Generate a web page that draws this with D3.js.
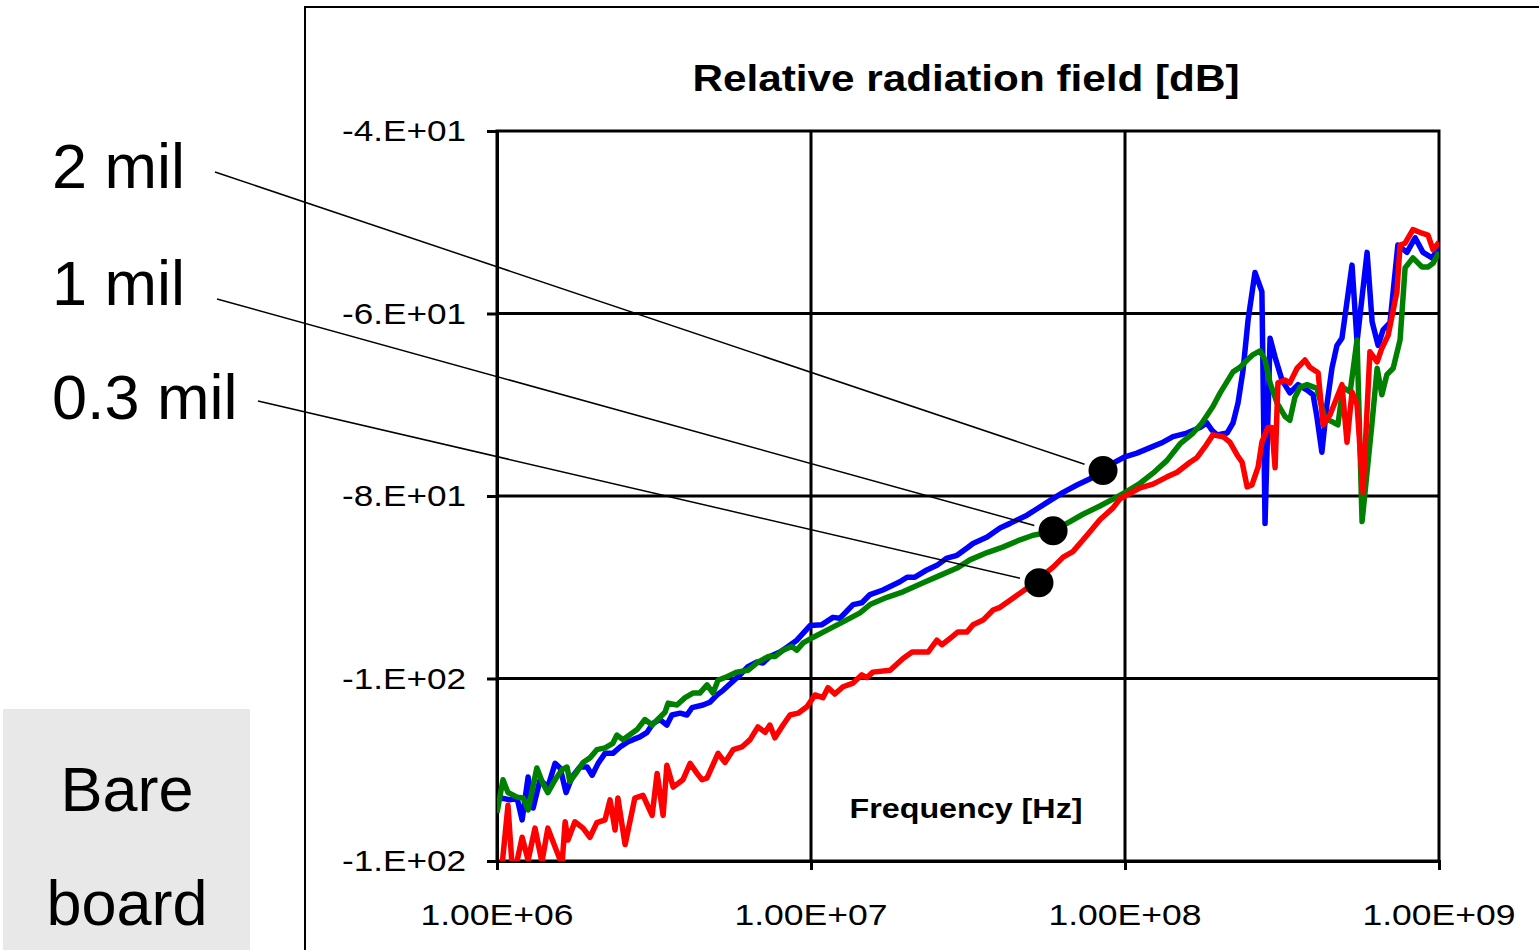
<!DOCTYPE html>
<html>
<head>
<meta charset="utf-8">
<script src="https://cdn.jsdelivr.net/npm/d3@7"></script>
<style>
  body { margin: 0; background: #fff; }
  text { font-family: "Liberation Sans", Arial, sans-serif; fill: #000; }
</style>
</head>
<body>
<svg id="chart" width="1539" height="950"></svg>
<script>
// each point: [log10(frequency in Hz), relative field in dB]
const twoMil = [[6.000,-113.0],[6.041,-113.3],[6.064,-113.1],[6.080,-115.5],[6.099,-110.8],[6.115,-114.2],[6.137,-111.1],[6.162,-111.9],[6.185,-109.3],[6.201,-109.8],[6.220,-112.5],[6.239,-110.8],[6.264,-109.7],[6.287,-109.7],[6.303,-110.6],[6.322,-109.3],[6.344,-108.2],[6.369,-108.2],[6.392,-107.5],[6.414,-107.0],[6.433,-106.7],[6.455,-106.4],[6.478,-105.9],[6.497,-104.9],[6.519,-104.5],[6.541,-105.1],[6.557,-104.0],[6.583,-103.8],[6.605,-104.0],[6.621,-103.2],[6.656,-102.9],[6.678,-102.6],[6.701,-101.8],[6.720,-101.3],[6.748,-100.4],[6.774,-99.6],[6.799,-98.7],[6.828,-98.2],[6.847,-98.3],[6.869,-97.6],[6.901,-97.1],[6.927,-96.5],[6.955,-95.8],[6.997,-94.2],[7.035,-94.1],[7.070,-93.3],[7.092,-93.4],[7.134,-91.9],[7.162,-91.7],[7.188,-90.8],[7.229,-90.3],[7.283,-89.4],[7.306,-88.9],[7.331,-88.9],[7.369,-88.1],[7.401,-87.6],[7.433,-86.8],[7.465,-86.5],[7.497,-85.7],[7.516,-85.2],[7.561,-84.5],[7.602,-83.5],[7.634,-83.0],[7.688,-82.1],[7.720,-81.4],[7.752,-80.7],[7.803,-79.6],[7.847,-78.8],[7.889,-78.1],[7.930,-77.2],[7.962,-76.4],[8.000,-75.7],[8.038,-75.3],[8.080,-74.7],[8.121,-74.1],[8.153,-73.5],[8.197,-73.1],[8.239,-72.5],[8.261,-72.0],[8.277,-72.8],[8.293,-73.3],[8.325,-73.1],[8.344,-72.0],[8.360,-69.8],[8.376,-66.2],[8.392,-60.7],[8.414,-55.5],[8.436,-57.6],[8.446,-83.0],[8.462,-62.7],[8.478,-64.8],[8.500,-67.3],[8.525,-68.7],[8.551,-67.8],[8.580,-68.4],[8.599,-68.9],[8.611,-71.3],[8.627,-75.2],[8.643,-70.0],[8.659,-66.0],[8.675,-63.5],[8.691,-62.7],[8.723,-54.7],[8.739,-63.1],[8.771,-53.3],[8.787,-60.9],[8.806,-63.5],[8.822,-61.8],[8.844,-61.0],[8.869,-52.5],[8.898,-53.3],[8.924,-51.7],[8.949,-53.3],[8.978,-53.9],[9.000,-52.8]];

const oneMil = [[6.000,-114.7],[6.019,-111.1],[6.035,-112.5],[6.064,-113.0],[6.083,-113.1],[6.099,-114.4],[6.127,-109.8],[6.146,-111.5],[6.162,-112.5],[6.185,-111.1],[6.207,-110.0],[6.223,-109.7],[6.232,-111.3],[6.255,-110.2],[6.274,-109.2],[6.296,-108.7],[6.318,-107.8],[6.344,-107.6],[6.369,-107.1],[6.382,-106.2],[6.401,-106.7],[6.446,-105.6],[6.471,-104.5],[6.494,-105.1],[6.535,-103.7],[6.545,-102.7],[6.573,-102.9],[6.599,-102.1],[6.624,-101.6],[6.646,-101.6],[6.669,-100.7],[6.688,-101.6],[6.704,-100.2],[6.732,-99.8],[6.764,-99.3],[6.799,-99.1],[6.831,-98.2],[6.863,-97.6],[6.885,-97.6],[6.911,-96.9],[6.939,-96.5],[6.955,-96.9],[6.975,-96.1],[7.006,-95.5],[7.051,-94.7],[7.102,-93.8],[7.156,-92.8],[7.188,-91.9],[7.242,-91.1],[7.293,-90.5],[7.357,-89.5],[7.411,-88.7],[7.465,-87.9],[7.506,-87.0],[7.561,-86.2],[7.611,-85.6],[7.666,-84.8],[7.707,-84.3],[7.739,-84.1],[7.815,-83.0],[7.866,-82.0],[7.920,-81.1],[7.975,-80.1],[8.006,-79.5],[8.048,-78.6],[8.089,-77.5],[8.134,-76.1],[8.175,-74.3],[8.217,-73.1],[8.245,-72.0],[8.280,-70.2],[8.303,-68.7],[8.344,-66.4],[8.366,-65.9],[8.389,-65.1],[8.408,-64.5],[8.430,-64.1],[8.446,-65.1],[8.462,-67.6],[8.484,-69.8],[8.510,-71.3],[8.525,-71.7],[8.541,-69.2],[8.557,-68.1],[8.580,-67.8],[8.611,-68.2],[8.637,-71.5],[8.662,-71.9],[8.678,-72.2],[8.694,-68.1],[8.717,-68.6],[8.739,-62.9],[8.755,-82.8],[8.787,-71.9],[8.803,-66.0],[8.818,-68.9],[8.834,-66.7],[8.854,-66.0],[8.876,-62.9],[8.892,-55.0],[8.917,-53.9],[8.946,-54.9],[8.965,-54.9],[8.981,-54.5],[9.000,-53.3]];

const pointThreeMil = [[6.010,-122.6],[6.035,-113.9],[6.051,-122.1],[6.080,-117.4],[6.099,-119.9],[6.121,-116.4],[6.143,-120.1],[6.162,-116.4],[6.191,-119.0],[6.207,-120.4],[6.217,-115.7],[6.226,-117.7],[6.248,-115.7],[6.274,-116.4],[6.296,-117.4],[6.318,-115.8],[6.344,-115.5],[6.360,-113.3],[6.376,-116.6],[6.385,-113.1],[6.408,-118.2],[6.439,-113.1],[6.465,-112.8],[6.494,-115.0],[6.510,-110.4],[6.529,-115.0],[6.541,-109.5],[6.561,-111.9],[6.592,-111.1],[6.615,-109.3],[6.637,-110.4],[6.653,-111.1],[6.669,-110.9],[6.704,-108.2],[6.726,-109.2],[6.752,-107.8],[6.780,-107.5],[6.806,-106.7],[6.831,-105.3],[6.854,-105.9],[6.869,-105.1],[6.885,-106.5],[6.911,-105.1],[6.933,-104.0],[6.959,-103.8],[6.987,-103.1],[7.013,-101.8],[7.038,-102.1],[7.054,-101.0],[7.076,-101.7],[7.102,-100.9],[7.134,-100.5],[7.162,-99.6],[7.178,-99.9],[7.197,-99.3],[7.252,-99.1],[7.293,-97.8],[7.322,-97.1],[7.373,-97.1],[7.401,-95.8],[7.417,-96.3],[7.443,-95.6],[7.468,-94.9],[7.497,-94.9],[7.516,-94.1],[7.548,-93.6],[7.580,-92.5],[7.602,-92.2],[7.643,-91.2],[7.688,-90.1],[7.771,-87.8],[7.803,-86.7],[7.834,-86.1],[7.879,-84.3],[7.920,-82.6],[7.962,-81.3],[7.984,-80.3],[8.016,-79.7],[8.048,-79.1],[8.089,-78.7],[8.134,-77.9],[8.166,-77.4],[8.207,-76.3],[8.229,-75.8],[8.255,-74.6],[8.280,-73.3],[8.312,-73.5],[8.334,-74.1],[8.357,-75.5],[8.373,-76.3],[8.389,-79.0],[8.404,-78.8],[8.424,-76.8],[8.436,-74.1],[8.455,-72.5],[8.468,-72.5],[8.478,-76.9],[8.487,-67.6],[8.510,-67.3],[8.525,-67.6],[8.548,-66.0],[8.573,-65.1],[8.589,-65.9],[8.615,-66.5],[8.631,-72.2],[8.653,-71.1],[8.691,-67.8],[8.707,-74.1],[8.723,-68.6],[8.739,-70.0],[8.758,-79.6],[8.780,-64.2],[8.803,-65.3],[8.818,-63.8],[8.838,-62.4],[8.866,-57.6],[8.876,-52.5],[8.892,-52.3],[8.917,-50.8],[8.946,-51.2],[8.965,-51.4],[8.981,-53.0],[9.000,-52.2]];

const seriesNames = ["2 mil", "1 mil", "0.3 mil"];
const seriesColors = ["#0000ff", "#008000", "#ff0000"];
// marker dots on each curve: [log10(Hz), dB]
const markerPoints = [[7.930, -77.2], [7.771, -83.8], [7.726, -89.5]];

const xTicks = [1e6, 1e7, 1e8, 1e9];
const xTickLabels = ["1.00E+06", "1.00E+07", "1.00E+08", "1.00E+09"];
const yTicks = [-40, -60, -80, -100, -120];
const yTickLabels = ["-4.E+01", "-6.E+01", "-8.E+01", "-1.E+02", "-1.E+02"];

const svg = d3.select("#chart");
const plot = { left: 497, right: 1439, top: 131, bottom: 861 };

const x = d3.scaleLog().domain([1e6, 1e9]).range([plot.left, plot.right]);
const y = d3.scaleLinear().domain([-120, -40]).range([plot.bottom, plot.top]);

// outer chart frame (runs off the right/bottom edge)
svg.append("path")
  .attr("d", "M305,960 L305,7 L1545,7")
  .attr("fill", "none")
  .attr("stroke", "#000")
  .attr("stroke-width", 2);

// "Bare board" tag
svg.append("rect")
  .attr("x", 3).attr("y", 709).attr("width", 247).attr("height", 245)
  .attr("fill", "#e8e8e8");
svg.append("text").attr("x", 127).attr("y", 811).attr("text-anchor", "middle")
  .attr("font-size", 63).text("Bare");
svg.append("text").attr("x", 127).attr("y", 925).attr("text-anchor", "middle")
  .attr("font-size", 63).text("board");

// grid lines
svg.append("g").selectAll("line")
  .data([-60, -80, -100])
  .join("line")
  .attr("x1", plot.left).attr("x2", plot.right)
  .attr("y1", d => y(d)).attr("y2", d => y(d))
  .attr("stroke", "#000").attr("stroke-width", 3);
svg.append("g").selectAll("line")
  .data([1e7, 1e8])
  .join("line")
  .attr("y1", plot.top).attr("y2", plot.bottom)
  .attr("x1", d => x(d)).attr("x2", d => x(d))
  .attr("stroke", "#000").attr("stroke-width", 3);

// axes
const xAxis = d3.axisBottom(x).tickValues(xTicks).tickSize(9).tickFormat("");
const yAxis = d3.axisLeft(y).tickValues(yTicks).tickSize(10).tickFormat("");
svg.append("g").attr("transform", `translate(0,${plot.bottom})`).call(xAxis)
  .call(g => g.selectAll("line,path").attr("stroke", "#000").attr("stroke-width", 3));
svg.append("g").attr("transform", `translate(${plot.left},0)`).call(yAxis)
  .call(g => g.selectAll("line,path").attr("stroke", "#000").attr("stroke-width", 3));

svg.append("rect")
  .attr("x", plot.left).attr("y", plot.top)
  .attr("width", plot.right - plot.left).attr("height", plot.bottom - plot.top)
  .attr("fill", "none").attr("stroke", "#000").attr("stroke-width", 3);

// tick labels, horizontally stretched like the pasted chart
svg.append("g").selectAll("text")
  .data(yTicks)
  .join("text")
  .attr("x", 466)
  .attr("y", d => y(d) + 10)
  .attr("text-anchor", "end")
  .attr("font-size", 30)
  .attr("textLength", 124)
  .attr("lengthAdjust", "spacingAndGlyphs")
  .text((d, i) => yTickLabels[i]);

svg.append("g").selectAll("text")
  .data(xTicks)
  .join("text")
  .attr("x", d => x(d))
  .attr("y", 925)
  .attr("text-anchor", "middle")
  .attr("font-size", 30)
  .attr("textLength", 153)
  .attr("lengthAdjust", "spacingAndGlyphs")
  .text((d, i) => xTickLabels[i]);

svg.append("text")
  .attr("x", 966).attr("y", 91)
  .attr("text-anchor", "middle")
  .attr("font-size", 36).attr("font-weight", "bold")
  .attr("textLength", 547).attr("lengthAdjust", "spacingAndGlyphs")
  .text("Relative radiation field [dB]");

svg.append("text")
  .attr("x", 966).attr("y", 818)
  .attr("text-anchor", "middle")
  .attr("font-size", 28).attr("font-weight", "bold")
  .attr("textLength", 233).attr("lengthAdjust", "spacingAndGlyphs")
  .text("Frequency [Hz]");

// data lines
svg.append("clipPath").attr("id", "plot-clip")
  .append("rect")
  .attr("x", plot.left).attr("y", plot.top)
  .attr("width", plot.right - plot.left).attr("height", plot.bottom - plot.top);

const line = d3.line()
  .x(d => x(Math.pow(10, d[0])))
  .y(d => y(d[1]));

const lines = svg.append("g").attr("clip-path", "url(#plot-clip)");
[twoMil, oneMil, pointThreeMil].forEach((data, i) => {
  lines.append("path")
    .datum(data)
    .attr("d", line)
    .attr("fill", "none")
    .attr("stroke", seriesColors[i])
    .attr("stroke-width", 5.5)
    .attr("stroke-linejoin", "round");
});

// labels with leader lines to marker dots
const labelPos = [[52, 188], [52, 305], [52, 419]];
const leaderStart = [[215, 172], [217, 299], [258, 401]];
const dotR = 14.5;

markerPoints.forEach((p, i) => {
  const cx = x(Math.pow(10, p[0]));
  const cy = y(p[1]);
  const [sx, sy] = leaderStart[i];
  const len = Math.hypot(cx - sx, cy - sy);
  const ex = cx - (cx - sx) / len * (dotR + 5);
  const ey = cy - (cy - sy) / len * (dotR + 5);
  svg.append("line")
    .attr("x1", sx).attr("y1", sy).attr("x2", ex).attr("y2", ey)
    .attr("stroke", "#000").attr("stroke-width", 1.5);
  svg.append("circle")
    .attr("cx", cx).attr("cy", cy).attr("r", dotR)
    .attr("fill", "#000");
  svg.append("text")
    .attr("x", labelPos[i][0]).attr("y", labelPos[i][1])
    .attr("font-size", 63)
    .text(seriesNames[i]);
});
</script>
</body>
</html>
